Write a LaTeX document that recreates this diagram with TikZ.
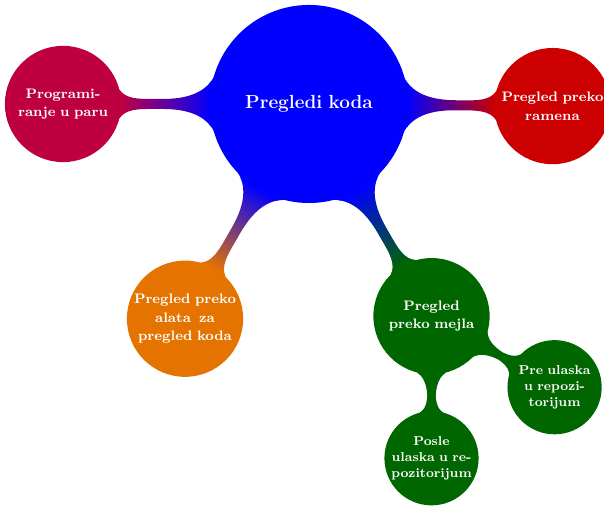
\documentclass[tikz,border=0pt]{standalone}
\usetikzlibrary{mindmap,calc}
\colorlet{pairred}{purple}
\colorlet{shoulderred}{red!80!black}
\colorlet{tooltone}{orange!90!black}
\colorlet{mailgreen}{green!40!black}
\begin{document}
\begin{tikzpicture}[mindmap,
  every concept/.append style={text=white, align=center},
  rootconcept/.style={concept color=blue, concept, minimum size=4cm, text width=3.2cm,
    inner sep=0pt, font=\fontsize{11}{13}\selectfont\bfseries},
  mainconcept/.style={concept, minimum size=2.33cm, text width=2.4cm,
    inner sep=-4pt, font=\fontsize{8}{10.7}\selectfont\bfseries},
  subconcept/.style={concept, minimum size=1.88cm, text width=1.8cm,
    inner sep=-4pt, font=\fontsize{7.5}{9.3}\selectfont\bfseries}]
\useasboundingbox (-6.306,-8.224) rectangle (6.02,2.122);

% root and first ring
\node[rootconcept] (root) at (0,0) {Pregledi koda};
\node[concept color=pairred, mainconcept] (pair) at (180:5.02) {Programi-\\ranje u paru};
\node[concept color=shoulderred, mainconcept] (shoulder) at (-0.5:4.97) {Pregled preko\\ramena};
\node[concept color=tooltone, mainconcept] (tool) at (240:5.06) {Pregled preko\\alata\hspace{0.6em}za\\pregled koda};
\node[concept color=mailgreen, mainconcept] (mail) at (300:5.0) {Pregled\\preko mejla};

% second ring below the mail review
\node[concept color=mailgreen, subconcept] (before) at ($(mail)+(330:2.9)$) {Pre ulaska\\u repozi-\\torijum};
\node[concept color=mailgreen, subconcept] (after) at ($(mail)+(270:2.9)$) {Posle\\ulaska u re-\\pozitorijum};

% connection bars
\path (root) to[circle connection bar switch color=from (blue) to (pairred)] (pair);
\path (root) to[circle connection bar switch color=from (blue) to (shoulderred)] (shoulder);
\path (root) to[circle connection bar switch color=from (blue) to (tooltone)] (tool);
\path (root) to[circle connection bar switch color=from (blue) to (mailgreen)] (mail);
\path (mail) to[circle connection bar switch color=from (mailgreen) to (mailgreen)] (before);
\path (mail) to[circle connection bar switch color=from (mailgreen) to (mailgreen)] (after);
\end{tikzpicture}
\end{document}
